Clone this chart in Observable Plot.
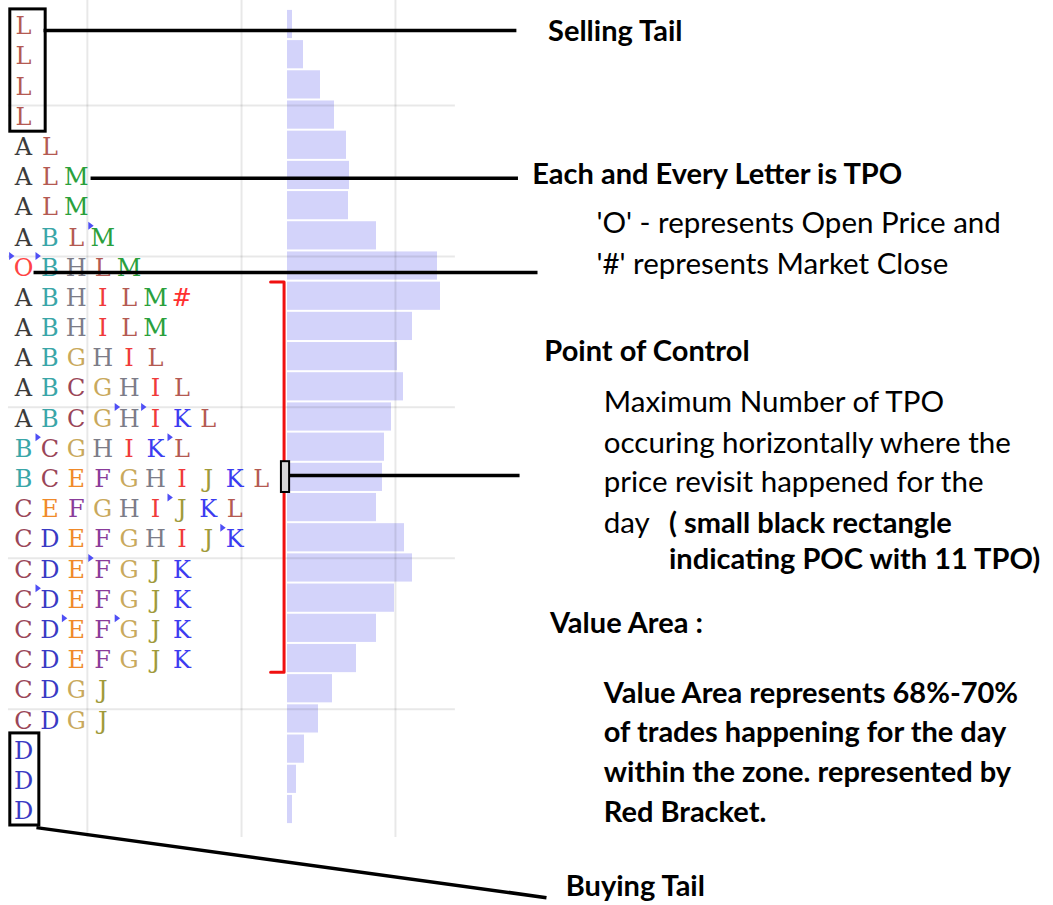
<!DOCTYPE html>
<html><head><meta charset="utf-8">
<script src="https://cdn.jsdelivr.net/npm/d3@7"></script>
<script src="https://cdn.jsdelivr.net/npm/@observablehq/plot@0.6"></script>
<style>
html,body{margin:0;padding:0;background:#fff;}
#chart{position:relative;width:1053px;height:905px;overflow:hidden;background:#fff;}
#chart svg{position:absolute;left:0;top:0;}
</style></head><body><div id="chart"></div>
<script>
// ---------------- data ----------------
// TPO letters per price row (top = highest price)
const tpoRows = [
  "L", "L", "L", "L",
  "AL", "ALM", "ALM", "ABLM", "OBHLM",
  "ABHILM#", "ABHILM", "ABGHIL", "ABCGHIL", "ABCGHIKL", "BCGHIKL",
  "BCEFGHIJKL", "CEFGHIJKL", "CDEFGHIJK",
  "CDEFGJK", "CDEFGJK", "CDEFGJK", "CDEFGJK",
  "CDGJ", "CDGJ", "D", "D", "D"
];
// volume histogram per price row
const rowVolume = [5, 16, 33, 47, 59, 62, 61, 89, 150, 153, 125, 110, 116, 104, 97,
                   95, 89, 117, 125, 107, 89, 69, 45, 31, 17, 9, 5];
// period colours
const periodLetters = ["A","B","C","D","E","F","G","H","I","J","K","L","M","O","#"];
const periodColors  = ["#3b3b3b","#3aa6a8","#9a4658","#3a3ac4","#f08a2a","#8a3c9a","#c9a95c",
                       "#7c7c88","#f03a3a","#a09a3a","#3c3cf0","#b45a52","#2aa03c","#ff4444","#ff3030"];
// small blue period-start markers: [row, column]
const markerRow = [7, 8, 8, 13, 13, 14, 14, 16, 17, 18, 19, 20, 20];
const markerCol = [3, 0, 1, 4, 5, 1, 6, 6, 8, 3, 1, 2, 4];
const pocRow = 15;
const valueAreaRows = [9, 21];
const sellingTailRows = [0, 3];
const buyingTailRows = [24, 26];
const priceGridRows = [2.68, 7.68, 12.68, 17.68, 22.68];
const timeGridCols = [2.42, 8.26, 14.09];

// ---------------- layout ----------------
const W = 1053, H = 905;
const colX0 = 23, colPitch = 26.4;      // letter column geometry (px)
const histLeft = 287;                   // histogram baseline (px)
const yScale = {type: "linear", domain: [0, 26], range: [24, 809], axis: null};
const xMain = {type: "linear", domain: [-colX0 / colPitch, (W - colX0) / colPitch], range: [0, W], axis: null};

const colorOf = new Map(periodLetters.map((l, i) => [l, periodColors[i]]));
const letters = tpoRows.flatMap((s, row) => [...s].map((letter, col) => ({row, col, letter})));
const bars = rowVolume.map((volume, row) => ({row, volume}));
const markers = markerRow.map((row, i) => ({row, col: markerCol[i]}));

// right-pointing triangle symbol
const rightTriangle = {
  draw(ctx, size) {
    const r = Math.sqrt(size / Math.PI);
    ctx.moveTo(r * 0.75, 0);
    ctx.lineTo(-r * 0.6, -r);
    ctx.lineTo(-r * 0.6, r);
    ctx.closePath();
  }
};

const hist = Plot.plot({
  width: W, height: H, margin: 0,
  x: {type: "linear", domain: [0, W - histLeft], range: [histLeft, W], axis: null},
  y: yScale,
  style: {background: "transparent"},
  marks: [
    Plot.rect(bars, {x1: () => 0, x2: "volume", y1: d => d.row - 0.5, y2: d => d.row + 0.5,
      insetTop: 1, insetBottom: 1, fill: "#6e6ef0", fillOpacity: 0.3})
  ]
});

const font = "Lato, 'Open Sans', sans-serif";
const boldNotes = [
  {t: "Selling Tail", c: 19.87, r: 0.55},
  {t: "Each and Every Letter is TPO", c: 19.27, r: 5.27},
  {t: "Point of Control", c: 19.73, r: 11.13},
  {t: "( small black rectangle", c: 24.45, r: 16.83},
  {t: "indicating POC with 11 TPO)", c: 24.45, r: 18.02},
  {t: "Value Area :", c: 19.94, r: 20.17},
  {t: "Value Area represents 68%-70%", c: 21.98, r: 22.46},
  {t: "of trades happening for the day", c: 21.98, r: 23.78},
  {t: "within the zone. represented by", c: 21.98, r: 25.1},
  {t: "Red Bracket.", c: 21.98, r: 26.43},
  {t: "Buying Tail", c: 20.54, r: 28.85}
];
const plainNotes = [
  {t: "'O' - represents Open Price and", c: 21.7, r: 6.92},
  {t: "'#' represents Market Close", c: 21.7, r: 8.25},
  {t: "Maximum Number of TPO", c: 21.98, r: 12.85},
  {t: "occuring horizontally where the", c: 21.98, r: 14.18},
  {t: "price revisit happened for the", c: 21.98, r: 15.5},
  {t: "day", c: 21.98, r: 16.83}
];
const leaders = [
  {x1: 0.76, y1: 0.2, x2: 18.67, y2: 0.2},
  {x1: 2.54, y1: 5.09, x2: 18.73, y2: 5.09},
  {x1: 0.38, y1: 8.21, x2: 19.47, y2: 8.21},
  {x1: 10.08, y1: 14.94, x2: 18.79, y2: 14.94},
  {x1: 0.49, y1: 26.6, x2: 19.81, y2: 28.92}
];
const vaTop = valueAreaRows[0] - 0.47, vaBot = valueAreaRows[1] + 0.45;
const bracket = [[9.36, vaTop], [9.87, vaTop], [9.87, vaBot], [9.36, vaBot]];

const main = Plot.plot({
  width: W, height: H, margin: 0,
  x: xMain, y: yScale,
  style: {background: "transparent"},
  marks: [
    Plot.ruleX(timeGridCols, {x: d => d, y1: -0.8, y2: 26.93, stroke: "#000", strokeOpacity: 0.09, strokeWidth: 2}),
    Plot.ruleY(priceGridRows, {y: d => d, x1: -0.57, x2: 16.36, stroke: "#000", strokeOpacity: 0.09, strokeWidth: 2}),
    Plot.text(letters, {x: "col", y: "row", text: "letter", fill: d => colorOf.get(d.letter),
      fontFamily: "'DejaVu Serif', serif", fontSize: 24, dy: 2}),
    Plot.dot(markers, {x: "col", y: "row", symbol: rightTriangle, r: 4, fill: "#4f4ff5", stroke: "none",
      dx: -12, dy: -10}),
    Plot.rect([sellingTailRows], {x1: -0.5, x2: 0.84, y1: d => d[0] - 0.5, y2: d => d[1] + 0.55,
      fill: "none", stroke: "#000", strokeWidth: 3}),
    Plot.rect([buyingTailRows], {x1: -0.5, x2: 0.6, y1: d => d[0] - 0.52, y2: d => d[1] + 0.53,
      fill: "none", stroke: "#000", strokeWidth: 3}),
    Plot.line(bracket, {x: d => d[0], y: d => d[1], stroke: "#f01010", strokeWidth: 3, curve: "linear"}),
    Plot.link(leaders, {x1: "x1", y1: "y1", x2: "x2", y2: "y2", stroke: "#000", strokeWidth: 3.5}),
    Plot.rect([pocRow], {x1: 9.77, x2: 10.08, y1: d => d - 0.52, y2: d => d + 0.5,
      fill: "#d8d8d8", stroke: "#000", strokeWidth: 2}),
    Plot.text(boldNotes, {x: "c", y: "r", text: "t", textAnchor: "start", lineAnchor: "bottom",
      fontFamily: font, fontWeight: 700, fontSize: 29, fill: "#000"}),
    Plot.text(plainNotes, {x: "c", y: "r", text: "t", textAnchor: "start", lineAnchor: "bottom",
      fontFamily: font, fontWeight: 400, fontSize: 29.5, fill: "#000"})
  ]
});

const chart = document.getElementById("chart");
chart.appendChild(hist);
chart.appendChild(main);
</script>
</body></html>
